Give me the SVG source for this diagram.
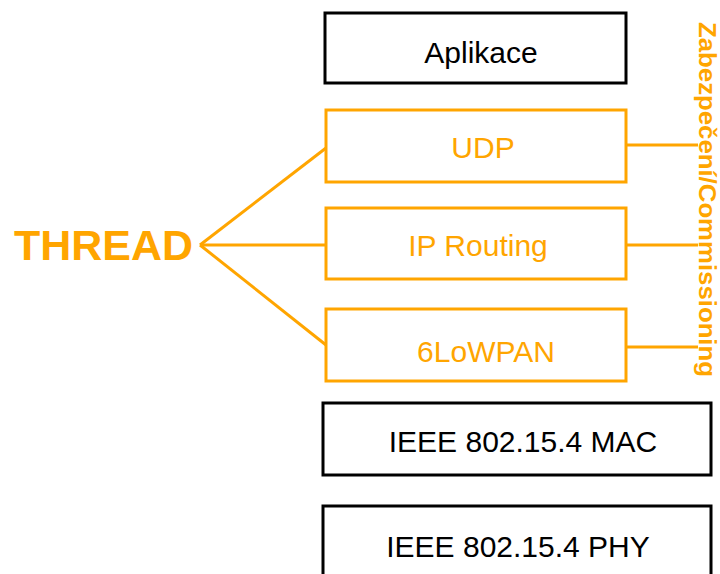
<svg xmlns="http://www.w3.org/2000/svg" width="720" height="574" viewBox="0 0 720 574">
<style>
.bk{fill:#fff;stroke:#000;stroke-width:3}
.or{fill:#fff;stroke:#FFA500;stroke-width:3}
.tb{font-family:"Liberation Sans",Arial,sans-serif;font-size:30px;fill:#000;text-anchor:middle}
.to{font-family:"Liberation Sans",Arial,sans-serif;font-size:30px;fill:#FFA500;text-anchor:middle}
.ln{stroke:#FFA500;stroke-width:3;fill:none}
</style>
<rect width="720" height="574" fill="#fff"/>
<g id="connectors">
<line class="ln" x1="200" y1="245" x2="326" y2="148"/>
<line class="ln" x1="200" y1="245" x2="326" y2="245"/>
<line class="ln" x1="200" y1="245" x2="326" y2="345"/>
<line class="ln" x1="626" y1="145" x2="698" y2="145"/>
<line class="ln" x1="626" y1="245" x2="698" y2="245"/>
<line class="ln" x1="626" y1="347" x2="698" y2="347"/>
</g>
<g id="aplikace"><rect class="bk" x="325" y="13" width="301" height="70"/><text class="tb" x="481" y="63">Aplikace</text></g>
<g id="udp"><rect class="or" x="326" y="110" width="300" height="72"/><text class="to" x="483" y="158">UDP</text></g>
<g id="iprouting"><rect class="or" x="326" y="208" width="300" height="71"/><text class="to" x="478" y="256">IP Routing</text></g>
<g id="lowpan"><rect class="or" x="326" y="309" width="300" height="72"/><text class="to" x="486" y="362">6LoWPAN</text></g>
<g id="mac"><rect class="bk" x="323" y="403" width="388" height="72"/><text class="tb" x="523" y="452">IEEE 802.15.4 MAC</text></g>
<g id="phy"><rect class="bk" x="323" y="506" width="388" height="80"/><text class="tb" x="518" y="557">IEEE 802.15.4 PHY</text></g>
<g id="thread"><text x="14" y="260" font-family="Liberation Sans,Arial,sans-serif" font-weight="bold" font-size="42" fill="#FFA500" textLength="179" lengthAdjust="spacingAndGlyphs">THREAD</text></g>
<g id="security"><text transform="translate(699,22) rotate(90)" x="0" y="0" font-family="Liberation Sans,Arial,sans-serif" font-weight="bold" font-size="24" fill="#FFA500" textLength="355" lengthAdjust="spacingAndGlyphs">Zabezpečení/Commissioning</text></g>
</svg>
